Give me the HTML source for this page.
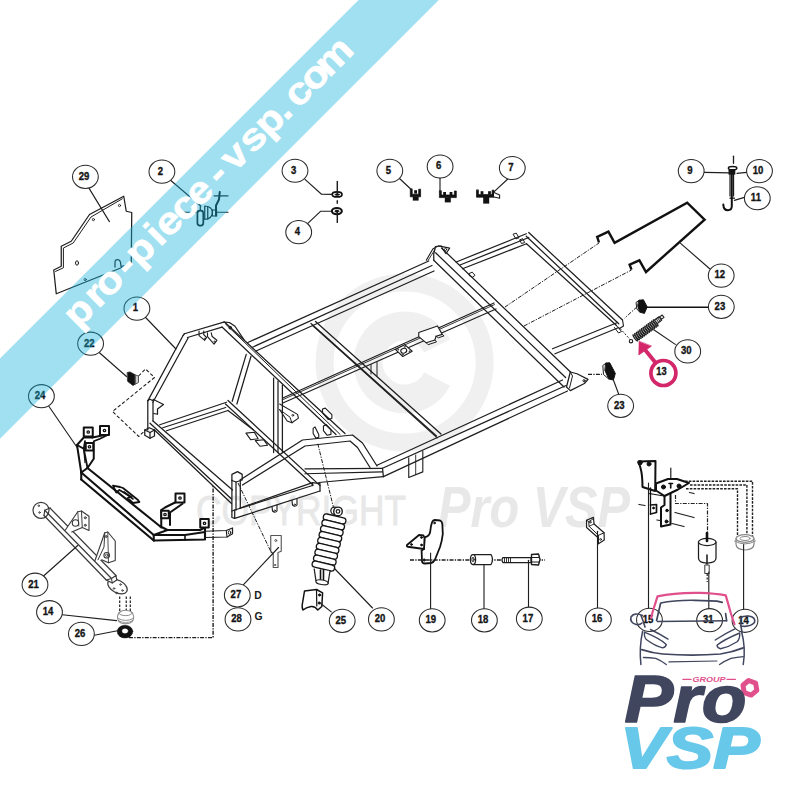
<!DOCTYPE html>
<html><head><meta charset="utf-8"><title>Schema</title>
<style>
html,body{margin:0;padding:0;background:#fff;}
body{width:800px;height:800px;overflow:hidden;position:relative;font-family:"Liberation Sans",sans-serif;}
svg{position:absolute;left:0;top:0;display:block}
.n{font:bold 10.6px "Liberation Sans",sans-serif;fill:#141414;text-anchor:middle;stroke:#141414;stroke-width:0.35px}
.b{font:bold 10.4px "Liberation Sans",sans-serif;fill:#1a1a1a}
</style></head><body>
<svg width="800" height="800" viewBox="0 0 800 800" stroke-linecap="round" stroke-linejoin="round">
<circle cx="404.60" cy="362.50" r="80.00" fill="none" stroke="#f0f0f0" stroke-width="18.00"/>
<path d="M 437.1 345.9 A 36.5 36.5 0 1 0 437.1 379.1" fill="none" stroke="#f0f0f0" stroke-width="29" stroke-linecap="butt"/>
<text x="196" y="525" style="font:42px 'Liberation Sans',sans-serif;fill:#e8e8e8;stroke:#e8e8e8;stroke-width:0.8px" textLength="210" lengthAdjust="spacingAndGlyphs">COPYRIGHT</text>
<text x="438" y="527" style="font:italic bold 57px 'Liberation Sans',sans-serif;fill:#e8e8e8" textLength="192" lengthAdjust="spacingAndGlyphs">Pro VSP</text>
<path d="M184.40 333.75 L223.75 322.10" fill="none" stroke="#1e1e1e" stroke-width="1.25" />
<path d="M187.50 337.50 L222.00 327.20" fill="none" stroke="#1e1e1e" stroke-width="1.25" />
<path d="M183.20 335.30 L147.80 400.90" fill="none" stroke="#1e1e1e" stroke-width="1.25" />
<path d="M188.10 338.00 L152.90 402.20" fill="none" stroke="#1e1e1e" stroke-width="1.25" />
<path d="M183.20 335.30 L184.40 333.75" fill="none" stroke="#1e1e1e" stroke-width="1.25" />
<path d="M147.80 400.50 L147.80 430.00" fill="none" stroke="#1e1e1e" stroke-width="1.25" />
<path d="M153.00 402.00 L153.00 421.00" fill="none" stroke="#1e1e1e" stroke-width="1.25" />
<path d="M147.80 400.50 L150.00 399.30 L153.00 400.80" fill="none" stroke="#1e1e1e" stroke-width="1.25" />
<path d="M153.00 399.30 L163.50 404.50 L157.50 409.00 L157.50 414.25 L153.75 413.50" fill="none" stroke="#1e1e1e" stroke-width="1.25" />
<path d="M144.75 430.00 L149.25 427.75 L154.50 430.00 L154.50 436.00 L150.00 438.25 L144.75 435.25 Z" fill="none" stroke="#1e1e1e" stroke-width="1.25" />
<path d="M144.75 430.00 L150.00 432.50 L154.50 430.00" fill="none" stroke="#1e1e1e" stroke-width="1.25" />
<path d="M150.00 432.50 L150.00 438.25" fill="none" stroke="#1e1e1e" stroke-width="1.25" />
<path d="M159.75 424.75 L226.50 402.25" fill="none" stroke="#1e1e1e" stroke-width="1.25" />
<path d="M162.75 427.75 L225.75 407.50" fill="none" stroke="#1e1e1e" stroke-width="1.25" />
<path d="M166.50 430.75 L228.00 410.50" fill="none" stroke="#1e1e1e" stroke-width="1.25" />
<path d="M153.00 421.00 L232.50 490.00" fill="none" stroke="#1e1e1e" stroke-width="1.25" />
<path d="M150.00 423.25 L231.50 499.00" fill="none" stroke="#1e1e1e" stroke-width="1.25" />
<path d="M154.50 430.00 L231.50 503.50" fill="none" stroke="#1e1e1e" stroke-width="1.25" />
<path d="M231.90 474.40 L237.50 471.60 L242.20 474.40 L242.20 480.00 L236.00 482.00 L231.90 480.50 Z" fill="none" stroke="#1e1e1e" stroke-width="1.25" />
<path d="M231.90 480.00 L231.90 511.00" fill="none" stroke="#1e1e1e" stroke-width="1.25" />
<path d="M236.00 482.00 L236.00 510.00" fill="none" stroke="#1e1e1e" stroke-width="1.25" />
<path d="M240.30 481.00 L240.30 508.00" fill="none" stroke="#1e1e1e" stroke-width="1.25" />
<path d="M240.00 508.00 L312.50 482.70" fill="none" stroke="#1e1e1e" stroke-width="1.25" />
<path d="M234.70 510.00 L312.50 485.50" fill="none" stroke="#1e1e1e" stroke-width="1.25" />
<path d="M234.70 518.40 L320.00 491.00" fill="none" stroke="#1e1e1e" stroke-width="1.25" />
<path d="M234.70 510.00 L231.90 511.00 L231.90 517.50 L234.70 518.40 L234.70 510.00" fill="none" stroke="#1e1e1e" stroke-width="1.25" />
<path d="M312.50 482.70 L320.00 483.60 L320.00 491.00" fill="none" stroke="#1e1e1e" stroke-width="1.25" />
<path d="M312.50 482.70 L312.50 485.50" fill="none" stroke="#1e1e1e" stroke-width="1.25" />
<path d="M228.00 400.50 L320.00 485.60" fill="none" stroke="#1e1e1e" stroke-width="1.25" />
<path d="M225.50 404.00 L313.00 485.00" fill="none" stroke="#1e1e1e" stroke-width="1.25" />
<path d="M228.00 410.50 L253.50 430.00" fill="none" stroke="#1e1e1e" stroke-width="1.25" />
<path d="M273.60 378.00 L273.60 452.50" fill="none" stroke="#1e1e1e" stroke-width="1.25" />
<path d="M278.00 381.00 L278.00 452.50" fill="none" stroke="#1e1e1e" stroke-width="1.25" />
<path d="M282.40 385.00 L282.40 452.50" fill="none" stroke="#1e1e1e" stroke-width="1.25" />
<path d="M224.50 322.00 L345.00 433.50" fill="none" stroke="#1e1e1e" stroke-width="1.25" />
<path d="M222.00 327.00 L336.00 434.50" fill="none" stroke="#1e1e1e" stroke-width="1.25" />
<path d="M223.75 322.10 L229.40 322.50 L235.00 326.25 L244.40 340.30" fill="none" stroke="#1e1e1e" stroke-width="1.25" />
<circle cx="230.30" cy="327.70" r="1.20" fill="none" stroke="#1e1e1e" stroke-width="1.25"/>
<path d="M246.25 354.40 L232.20 401.25" fill="none" stroke="#1e1e1e" stroke-width="1.25" />
<path d="M251.00 356.25 L236.90 404.00" fill="none" stroke="#1e1e1e" stroke-width="1.25" />
<path d="M247.80 342.50 L428.75 261.00" fill="none" stroke="#1e1e1e" stroke-width="1.25" />
<path d="M252.50 347.20 L432.00 265.50" fill="none" stroke="#1e1e1e" stroke-width="1.25" />
<path d="M256.00 351.00 L434.00 271.00" fill="none" stroke="#1e1e1e" stroke-width="1.25" />
<path d="M441.50 248.00 L570.50 372.00" fill="none" stroke="#1e1e1e" stroke-width="1.25" />
<path d="M435.60 252.80 L565.60 377.50" fill="none" stroke="#1e1e1e" stroke-width="1.25" />
<path d="M433.75 260.30 L564.00 387.00" fill="none" stroke="#1e1e1e" stroke-width="1.25" />
<path d="M433.75 260.00 L433.75 253.75 L435.50 246.50 L441.25 246.00" fill="none" stroke="#1e1e1e" stroke-width="1.25" />
<path d="M456.25 262.00 L526.25 233.75" fill="none" stroke="#1e1e1e" stroke-width="1.25" />
<path d="M460.00 265.00 L528.75 237.50" fill="none" stroke="#1e1e1e" stroke-width="1.25" />
<path d="M462.50 268.75 L526.50 243.75" fill="none" stroke="#1e1e1e" stroke-width="1.25" />
<path d="M528.75 232.50 L622.50 320.00" fill="none" stroke="#1e1e1e" stroke-width="1.25" />
<path d="M526.25 236.25 L618.75 323.75" fill="none" stroke="#1e1e1e" stroke-width="1.25" />
<path d="M526.50 243.75 L616.50 325.50" fill="none" stroke="#1e1e1e" stroke-width="1.25" />
<path d="M617.50 322.50 L552.50 348.75" fill="none" stroke="#1e1e1e" stroke-width="1.25" />
<path d="M618.75 327.50 L555.00 353.75" fill="none" stroke="#1e1e1e" stroke-width="1.25" />
<path d="M562.50 380.00 L377.00 465.30" fill="none" stroke="#1e1e1e" stroke-width="1.25" />
<path d="M566.00 385.50 L382.50 468.30" fill="none" stroke="#1e1e1e" stroke-width="1.25" />
<path d="M567.50 391.00 L383.40 476.60" fill="none" stroke="#1e1e1e" stroke-width="1.25" />
<path d="M311.00 323.50 L436.50 436.00" fill="none" stroke="#1e1e1e" stroke-width="1.25" />
<path d="M315.50 321.50 L441.00 434.00" fill="none" stroke="#1e1e1e" stroke-width="1.25" />
<path d="M312.60 325.60 L437.20 437.80" fill="none" stroke="#1e1e1e" stroke-width="1.12" />
<path d="M282.80 398.00 L494.00 303.00" fill="none" stroke="#1e1e1e" stroke-width="1.25" />
<path d="M282.80 403.00 L496.00 309.00" fill="none" stroke="#1e1e1e" stroke-width="1.25" />
<path d="M283.00 399.60 L494.50 304.60" fill="none" stroke="#1e1e1e" stroke-width="0.88" />
<path d="M240.00 480.00 L302.50 440.00 L352.50 435.00 L362.50 443.00 L377.00 466.00" fill="none" stroke="#1e1e1e" stroke-width="1.25" />
<path d="M242.50 485.00 L305.00 446.00 L350.00 441.00 L357.50 447.50 L370.00 467.50" fill="none" stroke="#1e1e1e" stroke-width="1.25" />
<path d="M305.00 468.75 L382.50 468.30" fill="none" stroke="#1e1e1e" stroke-width="1.25" />
<path d="M305.00 473.75 L382.50 471.90" fill="none" stroke="#1e1e1e" stroke-width="1.25" />
<path d="M318.75 482.50 L383.40 476.60" fill="none" stroke="#1e1e1e" stroke-width="1.25" />
<path d="M382.50 468.30 L383.40 476.60" fill="none" stroke="#1e1e1e" stroke-width="1.25" />
<path d="M123.75 196.25 L126.25 211.25 L131.75 212.50 L131.25 263.75 L56.25 293.75 L53.75 270.00 L61.25 266.25 L61.25 246.25 L71.25 241.25 L89.50 214.50 Z" fill="none" stroke="#1e1e1e" stroke-width="1.25" />
<path d="M122.30 198.80 L91.00 217.00 L73.20 243.00 L63.40 248.00 L63.40 267.80 L55.60 271.40" fill="none" stroke="#1e1e1e" stroke-width="1.00" />
<path d="M131.25 263.75 L121 266.5 L120.5 262.5 Q120 259.5 117.5 259.5 Q114.8 259.5 115 263 L115 267" fill="none" stroke="#1e1e1e" stroke-width="1.25" />
<circle cx="119.50" cy="205.50" r="1.10" fill="none" stroke="#1e1e1e" stroke-width="0.88"/>
<circle cx="93.40" cy="219.60" r="1.10" fill="none" stroke="#1e1e1e" stroke-width="0.88"/>
<ellipse cx="77.00" cy="263.00" rx="1.50" ry="2.20" fill="none" stroke="#1e1e1e" stroke-width="1.00" transform="rotate(0.0 77.00 263.00)"/>
<circle cx="85.20" cy="279.60" r="1.10" fill="none" stroke="#1e1e1e" stroke-width="0.88"/>
<path d="M89.10 188.40 L109.40 221.60" fill="none" stroke="#1e1e1e" stroke-width="1.12" />
<path d="M170.50 180.30 L201.00 206.25" fill="none" stroke="#1e1e1e" stroke-width="1.12" />
<path d="M184.10 212.25 L196.10 212.25" fill="none" stroke="#1e1e1e" stroke-width="1.12" />
<path d="M217.50 212.25 L228.00 212.25" fill="none" stroke="#1e1e1e" stroke-width="1.12" />
<path d="M214.10 195.90 L228.00 195.90" fill="none" stroke="#1e1e1e" stroke-width="1.12" />
<rect x="197.4" y="210.6" width="5.9" height="15" rx="2.6" fill="none" stroke="#111" stroke-width="1.7"/>
<path d="M200.3 206.5 V210.5" fill="none" stroke="#111" stroke-width="1.20" />
<path d="M204.75 206 Q212.4 206.5 212.4 212.5 Q212.4 218.5 204.75 219.5 Z" fill="none" stroke="#111" stroke-width="1.20" />
<path d="M207.75 206.5 V219" fill="none" stroke="#111" stroke-width="1.25" />
<rect x="212.4" y="210" width="4.2" height="6" fill="none" stroke="#111" stroke-width="1.2"/>
<path d="M219.75 192 L219 199.5 L216 205.5 L216 215.5" fill="none" stroke="#111" stroke-width="2.00" />
<ellipse cx="337.10" cy="194.45" rx="4.90" ry="2.50" fill="#fff" stroke="#111" stroke-width="1.70" transform="rotate(0.0 337.10 194.45)"/>
<ellipse cx="337.20" cy="194.60" rx="2.20" ry="0.90" fill="#111" stroke="#111" stroke-width="0.62" transform="rotate(0.0 337.20 194.60)"/>
<ellipse cx="336.85" cy="211.10" rx="5.00" ry="3.10" fill="#fff" stroke="#111" stroke-width="2.10" transform="rotate(0.0 336.85 211.10)"/>
<ellipse cx="336.90" cy="211.20" rx="2.00" ry="1.10" fill="#111" stroke="#111" stroke-width="0.62" transform="rotate(0.0 336.90 211.20)"/>
<path d="M337.30 181.50 L337.30 194.20" fill="none" stroke="#1e1e1e" stroke-width="1.44" />
<path d="M337.30 200.80 L337.30 203.20" fill="none" stroke="#1e1e1e" stroke-width="1.44" />
<path d="M337.30 212.00 L337.30 222.40" fill="none" stroke="#1e1e1e" stroke-width="1.44" />
<path d="M305.00 179.40 L321.50 194.25 L331.80 194.40" fill="none" stroke="#1e1e1e" stroke-width="1.12" />
<path d="M307.80 223.40 L320.50 211.30 L331.40 211.30" fill="none" stroke="#1e1e1e" stroke-width="1.12" />
<path d="M410.30 189.20 V196.80 H420.60 V189.20 H418.70 V194.20 H412.20 V189.20 Z" fill="#111" stroke="#111" stroke-width="0.75" />
<rect x="412.80" y="196.60" width="5.80" height="4.00" fill="#111"/>
<rect x="414.20" y="190.20" width="2.8" height="3.4" fill="#111"/>
<path d="M439.40 191.00 V197.60 H456.30 V191.00 H454.40 V195.00 H441.30 V191.00 Z" fill="#111" stroke="#111" stroke-width="0.75" />
<rect x="444.80" y="197.40" width="6.00" height="5.00" fill="#111"/>
<rect x="443.20" y="192.00" width="2.8" height="3.4" fill="#111"/>
<rect x="449.60" y="192.00" width="2.8" height="3.4" fill="#111"/>
<path d="M476.50 190.20 V197.20 H494.00 V190.20 H492.10 V194.60 H478.40 V190.20 Z" fill="#111" stroke="#111" stroke-width="0.75" />
<rect x="483.20" y="197.00" width="6.00" height="6.60" fill="#111"/>
<rect x="480.60" y="191.20" width="2.8" height="3.4" fill="#111"/>
<rect x="488.10" y="191.20" width="2.8" height="3.4" fill="#111"/>
<path d="M494.00 192.60 L499.60 195.00 L499.60 198.20 L494.00 197.00" fill="#fff" stroke="#1e1e1e" stroke-width="1.12" />
<path d="M399.50 178.50 L411.25 189.50" fill="none" stroke="#1e1e1e" stroke-width="1.12" />
<path d="M440.00 178.20 L440.00 192.00" fill="none" stroke="#1e1e1e" stroke-width="1.12" />
<path d="M507.80 179.00 L492.80 192.80" fill="none" stroke="#1e1e1e" stroke-width="1.12" />
<path d="M733.50 156.25 L733.50 163.25" fill="none" stroke="#1e1e1e" stroke-width="1.30" />
<ellipse cx="732.60" cy="168.15" rx="4.20" ry="1.60" fill="#fff" stroke="#111" stroke-width="1.50" transform="rotate(0.0 732.60 168.15)"/>
<rect x="728.5" y="170" width="6.8" height="4.6" fill="#111"/>
<path d="M731.8 174 V206 Q731.8 210.2 727.8 210.2 Q723.6 210.2 723.3 204.6" fill="none" stroke="#111" stroke-width="2.00" />
<path d="M730 174 V196 M733.6 174 V196" fill="none" stroke="#111" stroke-width="1.12" />
<path d="M730 198.2 H734.5" fill="none" stroke="#111" stroke-width="1.20" />
<path d="M704.10 172.35 L730.00 172.90" fill="none" stroke="#1e1e1e" stroke-width="1.12" />
<path d="M746.60 172.35 L737.00 173.40" fill="none" stroke="#1e1e1e" stroke-width="1.12" />
<path d="M744.35 197.40 L734.40 200.35" fill="none" stroke="#1e1e1e" stroke-width="1.12" />
<path d="M599.00 242.50 L597.20 236.90 L608.40 231.60 L614.60 242.90 L687.20 202.75 L704.60 219.60 L646.00 272.00 L639.40 260.30 L629.60 264.60 L631.50 269.70" fill="none" stroke="#111" stroke-width="2.40" stroke-linejoin="miter" stroke-linecap="butt"/>
<path d="M709.70 268.75 L680.60 243.40" fill="none" stroke="#1e1e1e" stroke-width="1.12" />
<path d="M639.10 300.30 L643.40 299.75 L647.20 306.90 L644.40 313.40 L639.70 312.10 L637.80 305.90 Z" fill="#111" stroke="#111" stroke-width="1.00" />
<path d="M639.10 300.30 L636.00 302.50 L636.90 309.00 L639.70 312.10" fill="none" stroke="#1e1e1e" stroke-width="1.00" />
<path d="M647.20 307.25 L708.50 307.25" fill="none" stroke="#111" stroke-width="1.60" />
<path d="M606.00 363.10 L609.70 362.75 L615.30 373.40 L613.40 380.00 L608.75 379.00 L605.00 370.60 Z" fill="#111" stroke="#111" stroke-width="1.00" />
<path d="M606.00 363.10 L602.80 365.50 L603.50 374.50 L608.75 379.00" fill="none" stroke="#1e1e1e" stroke-width="1.00" />
<path d="M613.40 380.00 L619.00 395.00" fill="none" stroke="#1e1e1e" stroke-width="1.12" />
<path d="M588.00 374.40 L602.00 374.40" fill="none" stroke="#1e1e1e" stroke-width="1.20" stroke-dasharray="4 1.3 1.3 1.3" stroke-linecap="butt" />
<path d="M636.90 306.90 L624.70 318.10" fill="none" stroke="#1e1e1e" stroke-width="1.00" stroke-dasharray="4 1.3 1.3 1.3" stroke-linecap="butt" />
<path d="M620.00 328.40 L630.30 339.70" fill="none" stroke="#1e1e1e" stroke-width="1.00" stroke-dasharray="2 1.5" stroke-linecap="butt" />
<ellipse cx="635.35" cy="337.88" rx="3.80" ry="0.88" fill="#fff" stroke="#1a1a1a" stroke-width="1.25" transform="rotate(53.6 635.35 337.88)"/>
<ellipse cx="637.04" cy="336.63" rx="3.80" ry="0.88" fill="#fff" stroke="#1a1a1a" stroke-width="1.25" transform="rotate(53.6 637.04 336.63)"/>
<ellipse cx="638.73" cy="335.38" rx="3.80" ry="0.88" fill="#fff" stroke="#1a1a1a" stroke-width="1.25" transform="rotate(53.6 638.73 335.38)"/>
<ellipse cx="640.42" cy="334.14" rx="3.80" ry="0.88" fill="#fff" stroke="#1a1a1a" stroke-width="1.25" transform="rotate(53.6 640.42 334.14)"/>
<ellipse cx="642.12" cy="332.89" rx="3.80" ry="0.88" fill="#fff" stroke="#1a1a1a" stroke-width="1.25" transform="rotate(53.6 642.12 332.89)"/>
<ellipse cx="643.81" cy="331.65" rx="3.80" ry="0.88" fill="#fff" stroke="#1a1a1a" stroke-width="1.25" transform="rotate(53.6 643.81 331.65)"/>
<ellipse cx="645.50" cy="330.40" rx="3.80" ry="0.88" fill="#fff" stroke="#1a1a1a" stroke-width="1.25" transform="rotate(53.6 645.50 330.40)"/>
<ellipse cx="647.19" cy="329.15" rx="3.80" ry="0.88" fill="#fff" stroke="#1a1a1a" stroke-width="1.25" transform="rotate(53.6 647.19 329.15)"/>
<ellipse cx="648.88" cy="327.91" rx="3.80" ry="0.88" fill="#fff" stroke="#1a1a1a" stroke-width="1.25" transform="rotate(53.6 648.88 327.91)"/>
<ellipse cx="650.58" cy="326.66" rx="3.80" ry="0.88" fill="#fff" stroke="#1a1a1a" stroke-width="1.25" transform="rotate(53.6 650.58 326.66)"/>
<ellipse cx="652.27" cy="325.42" rx="3.80" ry="0.88" fill="#fff" stroke="#1a1a1a" stroke-width="1.25" transform="rotate(53.6 652.27 325.42)"/>
<ellipse cx="653.96" cy="324.17" rx="3.80" ry="0.88" fill="#fff" stroke="#1a1a1a" stroke-width="1.25" transform="rotate(53.6 653.96 324.17)"/>
<ellipse cx="655.65" cy="322.92" rx="3.80" ry="0.88" fill="#fff" stroke="#1a1a1a" stroke-width="1.25" transform="rotate(53.6 655.65 322.92)"/>
<path d="M654.50 320.00 L659.00 316.70 L661.60 320.20 L657.20 323.60 Z" fill="#ddd" stroke="#222" stroke-width="1.12" />
<path d="M659.60 316.90 L662.20 315.00 L664.00 317.40 L661.40 319.40 Z" fill="#eee" stroke="#222" stroke-width="1.12" />
<path d="M656.20 318.80 L658.60 322.30" fill="none" stroke="#1e1e1e" stroke-width="0.88" />
<path d="M657.60 317.70 L660.00 321.30" fill="none" stroke="#1e1e1e" stroke-width="0.88" />
<circle cx="631.00" cy="341.20" r="1.70" fill="none" stroke="#1e1e1e" stroke-width="1.12"/>
<path d="M675.30 344.40 L653.75 329.75" fill="none" stroke="#1e1e1e" stroke-width="1.12" />
<circle cx="663.40" cy="373.00" r="12.50" fill="none" stroke="#d3276a" stroke-width="3.70"/>
<path d="M655.60 362.80 L644.20 348.80" fill="none" stroke="#d3276a" stroke-width="3.90" stroke-linecap="butt"/>
<path d="M639.10 341.60 L638.80 355.00 L651.30 346.20 Z" fill="#d3276a" stroke="#d3276a" stroke-width="0.62" />
<path d="M127.50 372.50 L130.00 372.00 L135.50 375.00 L135.50 384.00 L133.00 385.50 L127.80 381.50 Z" fill="#111" stroke="#111" stroke-width="0.75" />
<path d="M135.50 375.00 L138.50 376.00 L138.50 382.50 L135.50 384.00 Z" fill="#ccc" stroke="#555" stroke-width="1.00" />
<path d="M99.20 352.50 L126.50 376.50" fill="none" stroke="#1e1e1e" stroke-width="1.12" />
<path d="M138.50 376.00 L145.50 369.00 L154.50 377.50 L112.50 411.50 L138.75 436.50 L145.00 430.50" fill="none" stroke="#1e1e1e" stroke-width="1.06" stroke-dasharray="3.5 2" stroke-linecap="butt" />
<path d="M87.50 468.00 L160.00 526.25" fill="none" stroke="#111" stroke-width="2.10" />
<path d="M81.25 472.50 L153.75 535.00" fill="none" stroke="#111" stroke-width="2.10" />
<path d="M81.25 479.50 L153.75 540.50" fill="none" stroke="#111" stroke-width="2.10" />
<path d="M81.25 472.50 L81.25 479.50" fill="none" stroke="#111" stroke-width="2.10" />
<path d="M81.25 472.50 L87.50 468.00" fill="none" stroke="#111" stroke-width="2.10" />
<path d="M160.00 526.25 L167.50 530.00 L200.00 530.00 L205.00 527.50" fill="none" stroke="#111" stroke-width="2.10" />
<path d="M153.75 535.00 L167.50 530.00" fill="none" stroke="#111" stroke-width="1.90" />
<path d="M153.75 535.00 L185.00 535.00 L205.00 532.00" fill="none" stroke="#111" stroke-width="1.90" />
<path d="M153.75 540.50 L205.00 539.50 L205.00 527.50" fill="none" stroke="#111" stroke-width="2.10" />
<path d="M153.75 535.00 L153.75 540.50" fill="none" stroke="#111" stroke-width="2.10" />
<path d="M185.00 535.00 L185.00 540.00" fill="none" stroke="#111" stroke-width="1.60" />
<path d="M205.00 531.25 L226.25 530.50 L232.50 528.00 L232.50 533.75 L227.00 537.00 L205.00 537.50" fill="none" stroke="#1e1e1e" stroke-width="1.25" />
<path d="M226.25 530.50 L227.00 537.00" fill="none" stroke="#1e1e1e" stroke-width="1.12" />
<ellipse cx="229.50" cy="532.50" rx="1.20" ry="1.80" fill="none" stroke="#1e1e1e" stroke-width="1.00" transform="rotate(0.0 229.50 532.50)"/>
<path d="M81.25 472.50 L77.00 445.00 L83.75 437.50 L92.50 437.50" fill="none" stroke="#111" stroke-width="2.00" />
<path d="M87.50 468.00 L83.75 448.75 L85.00 441.25" fill="none" stroke="#111" stroke-width="1.80" />
<path d="M77.00 445.00 L83.75 448.75 L93.75 442.50 L93.75 458.75 L87.50 468.00" fill="none" stroke="#111" stroke-width="2.00" />
<path d="M83.75 448.75 L85.00 462.50" fill="none" stroke="#111" stroke-width="1.25" />
<path d="M92.50 437.50 L104.50 435.00" fill="none" stroke="#111" stroke-width="1.80" />
<path d="M93.75 441.25 L100.00 438.75 L107.50 435.00" fill="none" stroke="#111" stroke-width="1.80" />
<rect x="83.75" y="427.50" width="9.00" height="9.00" fill="#fff" stroke="#111" stroke-width="2"/>
<circle cx="88.25" cy="432.00" r="1.20" fill="none" stroke="#111" stroke-width="1.30"/>
<rect x="100.00" y="426.00" width="9.00" height="9.00" fill="#fff" stroke="#111" stroke-width="2"/>
<circle cx="104.50" cy="430.50" r="1.20" fill="none" stroke="#111" stroke-width="1.30"/>
<rect x="85.75" y="443.00" width="7.50" height="7.50" fill="#fff" stroke="#111" stroke-width="2"/>
<circle cx="89.50" cy="446.75" r="1.20" fill="none" stroke="#111" stroke-width="1.30"/>
<path d="M161.25 527.50 L161.25 510.00 L165.00 507.50 L177.50 501.25" fill="none" stroke="#111" stroke-width="2.00" />
<path d="M170.00 525.00 L170.00 512.50 L182.50 503.75" fill="none" stroke="#111" stroke-width="2.00" />
<path d="M161.25 510.00 L170.00 512.50" fill="none" stroke="#111" stroke-width="1.60" />
<rect x="175.50" y="493.50" width="9.00" height="9.00" fill="#fff" stroke="#111" stroke-width="2"/>
<circle cx="180.00" cy="498.00" r="1.20" fill="none" stroke="#111" stroke-width="1.30"/>
<rect x="161.25" y="510.75" width="7.50" height="7.50" fill="#fff" stroke="#111" stroke-width="2"/>
<circle cx="165.00" cy="514.50" r="1.20" fill="none" stroke="#111" stroke-width="1.30"/>
<rect x="200.25" y="519.00" width="8.50" height="8.50" fill="#fff" stroke="#111" stroke-width="2"/>
<circle cx="204.50" cy="523.25" r="1.20" fill="none" stroke="#111" stroke-width="1.30"/>
<path d="M113.00 485.60 L120.00 487.00 L123.00 488.00 L138.00 500.00 L139.40 502.00 L133.00 503.00 L127.50 498.00 L131.25 497.00 L119.40 490.00 L116.25 492.50 Z" fill="none" stroke="#111" stroke-width="1.80" />
<path d="M124.00 492.00 L133.00 499.00" fill="none" stroke="#111" stroke-width="1.60" />
<path d="M48.50 405.80 L77.50 448.00" fill="none" stroke="#1e1e1e" stroke-width="1.12" />
<circle cx="41.00" cy="510.30" r="8.00" fill="#fff" stroke="#3a3a3a" stroke-width="1.19"/>
<circle cx="38.75" cy="505.75" r="0.80" fill="none" stroke="#3a3a3a" stroke-width="0.88"/>
<circle cx="39.50" cy="512.50" r="0.80" fill="none" stroke="#3a3a3a" stroke-width="0.88"/>
<path d="M50.00 508.00 L116.00 575.50" fill="none" stroke="#3a3a3a" stroke-width="1.19" />
<path d="M44.75 510.25 L111.50 578.50" fill="none" stroke="#3a3a3a" stroke-width="1.19" />
<path d="M44.00 515.50 L106.25 580.00" fill="none" stroke="#3a3a3a" stroke-width="1.19" />
<path d="M44.00 515.50 L44.75 510.25 L50.00 508.00" fill="none" stroke="#3a3a3a" stroke-width="1.19" />
<ellipse cx="117.50" cy="586.50" rx="10.50" ry="6.20" fill="#fff" stroke="#3a3a3a" stroke-width="1.19" transform="rotate(28.0 117.50 586.50)"/>
<path d="M106.25 580.00 L111.50 578.50 L116.00 575.50 L116.75 580.00 L112.25 583.00 L106.25 580.00" fill="#fff" stroke="#3a3a3a" stroke-width="1.19" />
<path d="M111.50 578.50 L112.25 583.00" fill="none" stroke="#3a3a3a" stroke-width="1.00" />
<circle cx="114.00" cy="588.50" r="0.80" fill="none" stroke="#3a3a3a" stroke-width="0.88"/>
<circle cx="120.50" cy="584.50" r="0.80" fill="none" stroke="#3a3a3a" stroke-width="0.88"/>
<circle cx="122.50" cy="590.50" r="0.80" fill="none" stroke="#3a3a3a" stroke-width="0.88"/>
<circle cx="116.50" cy="593.00" r="0.80" fill="none" stroke="#3a3a3a" stroke-width="0.88"/>
<path d="M65.00 530.50 L77.75 511.75 L81.50 511.00 L89.00 516.25 L89.00 530.50 L82.25 527.50 L71.75 532.00" fill="#fff" stroke="#3a3a3a" stroke-width="1.12" />
<path d="M81.50 511.00 L82.25 527.50" fill="none" stroke="#3a3a3a" stroke-width="1.00" />
<path d="M77.75 511.75 L78.80 526.00" fill="none" stroke="#3a3a3a" stroke-width="0.88" />
<circle cx="75.50" cy="523.00" r="3.20" fill="none" stroke="#3a3a3a" stroke-width="1.12"/>
<circle cx="85.25" cy="517.75" r="1.00" fill="none" stroke="#3a3a3a" stroke-width="1.00"/>
<circle cx="85.25" cy="525.25" r="1.00" fill="none" stroke="#3a3a3a" stroke-width="1.00"/>
<path d="M95.00 560.50 L104.75 532.75 L107.75 532.00 L115.25 541.00 L115.25 560.50 L108.50 562.75 L101.75 559.75" fill="#fff" stroke="#3a3a3a" stroke-width="1.12" />
<path d="M104.75 532.75 L104.00 547.00 L98.00 559.75" fill="none" stroke="#3a3a3a" stroke-width="1.00" />
<path d="M107.75 532.00 L108.50 562.75" fill="none" stroke="#3a3a3a" stroke-width="0.88" />
<circle cx="106.70" cy="555.25" r="2.80" fill="none" stroke="#3a3a3a" stroke-width="1.12"/>
<circle cx="106.70" cy="555.25" r="1.20" fill="none" stroke="#3a3a3a" stroke-width="0.88"/>
<circle cx="106.25" cy="536.50" r="1.00" fill="none" stroke="#3a3a3a" stroke-width="1.00"/>
<path d="M43.25 576.25 L77.75 545.50" fill="none" stroke="#1e1e1e" stroke-width="1.12" />
<path d="M119.70 596.50 L119.70 611.50" fill="none" stroke="#1e1e1e" stroke-width="1.20" stroke-dasharray="2.6 1.4" stroke-linecap="butt" />
<path d="M126.25 596.50 L126.25 611.50" fill="none" stroke="#1e1e1e" stroke-width="1.20" stroke-dasharray="2.6 1.4" stroke-linecap="butt" />
<path d="M130.30 596.50 L130.30 611.50" fill="none" stroke="#1e1e1e" stroke-width="1.20" stroke-dasharray="2.6 1.4" stroke-linecap="butt" />
<ellipse cx="125.60" cy="613.00" rx="6.60" ry="2.60" fill="#fff" stroke="#8c8c8c" stroke-width="1.00" transform="rotate(0.0 125.60 613.00)"/>
<path d="M117.6 616 Q117 621 121 623 Q125.6 624.5 130 623 Q134.2 621 133.6 616 Q133 612.5 130.5 611.5" fill="none" stroke="#8c8c8c" stroke-width="1.06" />
<path d="M117.6 616 Q118.2 612.5 121 611.5" fill="none" stroke="#8c8c8c" stroke-width="1.06" />
<path d="M118 618.5 Q125.6 622.5 133.3 618.5" fill="none" stroke="#8c8c8c" stroke-width="1.00" />
<path d="M118.6 620.8 Q125.6 624.5 132.6 620.8" fill="none" stroke="#8c8c8c" stroke-width="0.88" />
<path d="M62.40 614.70 L116.50 620.60" fill="none" stroke="#1e1e1e" stroke-width="1.12" />
<ellipse cx="125.00" cy="631.60" rx="7.80" ry="6.40" fill="#111" stroke="#111" stroke-width="0.50" transform="rotate(0.0 125.00 631.60)"/>
<ellipse cx="125.00" cy="631.00" rx="2.80" ry="2.20" fill="#fff" stroke="#fff" stroke-width="0.38" transform="rotate(0.0 125.00 631.00)"/>
<path d="M94.30 635.30 L117.50 630.80" fill="none" stroke="#1e1e1e" stroke-width="1.12" />
<path d="M129.00 637.60 L213.10 637.60 L213.10 485.00" fill="none" stroke="#1e1e1e" stroke-width="1.38" stroke-dasharray="4 1.3 1.3 1.3" stroke-linecap="butt" />
<path d="M270.75 535.50 L281.25 535.50 L281.25 551.25 L278.00 552.50 L278.00 567.50 L273.25 567.50 L273.25 553.75 L270.75 551.25 Z" fill="none" stroke="#555" stroke-width="1.12" />
<circle cx="275.75" cy="540.50" r="1.00" fill="none" stroke="#555" stroke-width="1.00"/>
<circle cx="275.00" cy="565.00" r="0.70" fill="none" stroke="#555" stroke-width="0.88"/>
<path d="M243.50 584.70 L278.50 547.50" fill="none" stroke="#1e1e1e" stroke-width="1.12" />
<path d="M238.00 483.00 L272.50 555.00" fill="none" stroke="#1e1e1e" stroke-width="1.00" stroke-dasharray="4 1.3 1.3 1.3" stroke-linecap="butt" />
<path d="M317.80 443.75 L333.50 507.50" fill="none" stroke="#1e1e1e" stroke-width="1.00" stroke-dasharray="4 1.3 1.3 1.3" stroke-linecap="butt" />
<circle cx="334.40" cy="510.80" r="3.60" fill="#fff" stroke="#1e1e1e" stroke-width="1.25"/>
<circle cx="338.00" cy="511.40" r="4.30" fill="#fff" stroke="#1e1e1e" stroke-width="1.38"/>
<circle cx="338.00" cy="511.40" r="1.80" fill="none" stroke="#1e1e1e" stroke-width="1.25"/>
<rect x="323.10" y="515.86" width="23.00" height="6.17" rx="3.09" fill="#fff" stroke="#151515" stroke-width="1.30" transform="rotate(13.4 334.60 518.94)"/>
<rect x="321.70" y="521.75" width="23.00" height="6.17" rx="3.09" fill="#fff" stroke="#151515" stroke-width="1.30" transform="rotate(13.4 333.20 524.83)"/>
<rect x="320.30" y="527.64" width="23.00" height="6.17" rx="3.09" fill="#fff" stroke="#151515" stroke-width="1.30" transform="rotate(13.4 331.80 530.72)"/>
<rect x="318.90" y="533.52" width="23.00" height="6.17" rx="3.09" fill="#fff" stroke="#151515" stroke-width="1.30" transform="rotate(13.4 330.40 536.61)"/>
<rect x="317.50" y="539.41" width="23.00" height="6.17" rx="3.09" fill="#fff" stroke="#151515" stroke-width="1.30" transform="rotate(13.4 329.00 542.50)"/>
<rect x="316.10" y="545.30" width="23.00" height="6.17" rx="3.09" fill="#fff" stroke="#151515" stroke-width="1.30" transform="rotate(13.4 327.60 548.39)"/>
<rect x="314.70" y="551.19" width="23.00" height="6.17" rx="3.09" fill="#fff" stroke="#151515" stroke-width="1.30" transform="rotate(13.4 326.20 554.28)"/>
<rect x="313.30" y="557.08" width="23.00" height="6.17" rx="3.09" fill="#fff" stroke="#151515" stroke-width="1.30" transform="rotate(13.4 324.80 560.17)"/>
<rect x="311.90" y="562.97" width="23.00" height="6.17" rx="3.09" fill="#fff" stroke="#151515" stroke-width="1.30" transform="rotate(13.4 323.40 566.06)"/>
<path d="M314.20 569.00 L316.00 581.00 L328.00 583.50 L330.00 571.00" fill="#fff" stroke="#1e1e1e" stroke-width="1.25" />
<ellipse cx="322.00" cy="582.30" rx="6.20" ry="2.30" fill="#fff" stroke="#1e1e1e" stroke-width="1.12" transform="rotate(10.0 322.00 582.30)"/>
<path d="M320.50 570.00 L320.50 579.00" fill="none" stroke="#111" stroke-width="1.60" />
<path d="M323.50 570.00 L323.50 579.50" fill="none" stroke="#111" stroke-width="1.60" />
<path d="M372.50 608.00 L334.25 568.25" fill="none" stroke="#1e1e1e" stroke-width="1.12" />
<path d="M304.5 591 L316.5 589.5 L322.6 592.8 L321.8 606.5 L317.8 610 Q315 606 311 606.5 Q306 607.5 303 610 Q301.8 608 302.2 605 Z" fill="#fff" stroke="#111" stroke-width="1.50" />
<path d="M316.5 589.5 L316.8 606" fill="none" stroke="#111" stroke-width="1.20" />
<circle cx="319.60" cy="595.00" r="1.10" fill="#111" stroke="#111" stroke-width="1.00"/>
<circle cx="319.20" cy="603.00" r="1.10" fill="#111" stroke="#111" stroke-width="1.00"/>
<path d="M331.25 611.90 L321.00 603.80" fill="none" stroke="#1e1e1e" stroke-width="1.12" />
<path d="M432 522.5 Q433 520 435 520 L440 520.5 Q442.4 521.5 442.4 525 L442.8 534 Q442 541 440 547 L435 559.5 Q433.5 562.5 431 563 L425 563.5 Q422 563.5 422 561 L421.6 550.5 L424 549 L424.5 538 Q425 536.8 427 536.5 Q430 535 430.3 531 L431 526 Z" fill="#fff" stroke="#111" stroke-width="1.80" />
<path d="M407 545 L419 535 L423.5 535.5 L424.5 538 L424 549 L409.5 547 Q406 547 407 545 Z" fill="#fff" stroke="#111" stroke-width="1.80" />
<circle cx="411.50" cy="544.50" r="0.90" fill="#111" stroke="#111" stroke-width="1.00"/>
<circle cx="421.50" cy="537.50" r="0.90" fill="#111" stroke="#111" stroke-width="1.00"/>
<circle cx="421.50" cy="545.00" r="0.90" fill="#111" stroke="#111" stroke-width="1.00"/>
<circle cx="434.50" cy="523.00" r="0.80" fill="#111" stroke="#111" stroke-width="1.00"/>
<circle cx="424.20" cy="560.00" r="1.10" fill="#111" stroke="#111" stroke-width="1.00"/>
<path d="M430.60 553.00 L430.60 608.70" fill="none" stroke="#1e1e1e" stroke-width="1.12" />
<path d="M410.00 560.00 L545.00 560.00" fill="none" stroke="#1e1e1e" stroke-width="1.38" stroke-dasharray="4 1.3 1.3 1.3" stroke-linecap="butt" />
<path d="M473 554.5 L491 554.5 Q494 559.5 491 564.5 L473 564.5 Q470 559.5 473 554.5 Z" fill="#fff" stroke="#1e1e1e" stroke-width="1.25" />
<ellipse cx="473.00" cy="559.50" rx="2.60" ry="5.00" fill="#fff" stroke="#1e1e1e" stroke-width="1.25" transform="rotate(0.0 473.00 559.50)"/>
<ellipse cx="473.00" cy="559.50" rx="1.10" ry="2.20" fill="none" stroke="#1e1e1e" stroke-width="1.00" transform="rotate(0.0 473.00 559.50)"/>
<path d="M484.00 565.00 L484.00 608.70" fill="none" stroke="#1e1e1e" stroke-width="1.12" />
<path d="M503 557.5 L531 557.5 L531 562.5 L503 562.5 Q501 560 503 557.5 Z" fill="#fff" stroke="#1e1e1e" stroke-width="1.25" />
<path d="M504.50 557.50 L504.50 562.50" fill="none" stroke="#1e1e1e" stroke-width="0.88" />
<path d="M506.50 557.50 L506.50 562.50" fill="none" stroke="#1e1e1e" stroke-width="0.88" />
<path d="M508.50 557.50 L508.50 562.50" fill="none" stroke="#1e1e1e" stroke-width="0.88" />
<path d="M510.50 557.50 L510.50 562.50" fill="none" stroke="#1e1e1e" stroke-width="0.88" />
<path d="M531.5 554.5 L538.5 554 L540 559.5 L538.5 565 L531.5 564.5 Z" fill="#fff" stroke="#1e1e1e" stroke-width="1.38" />
<path d="M531.50 557.50 L539.50 557.50" fill="none" stroke="#1e1e1e" stroke-width="1.00" />
<path d="M531.50 562.00 L539.50 562.00" fill="none" stroke="#1e1e1e" stroke-width="1.00" />
<path d="M528.50 560.30 L528.50 607.20" fill="none" stroke="#1e1e1e" stroke-width="1.12" />
<path d="M586.56 520.31 L593.44 517.38 L594.06 524.06 L604.06 532.81 L604.25 540.00 L598.44 543.75 L597.81 537.50 L586.56 527.50 Z" fill="#fff" stroke="#1e1e1e" stroke-width="1.19" />
<path d="M586.56 520.31 L588.75 521.56 L593.44 518.75" fill="none" stroke="#1e1e1e" stroke-width="0.88" />
<path d="M588.75 521.56 L589.06 526.25 L598.44 535.31 L604.06 532.81" fill="none" stroke="#1e1e1e" stroke-width="1.00" />
<path d="M598.44 535.31 L598.44 543.75" fill="none" stroke="#1e1e1e" stroke-width="1.00" />
<path d="M589.06 526.25 L594.06 524.06" fill="none" stroke="#1e1e1e" stroke-width="0.88" />
<circle cx="590.30" cy="522.20" r="0.80" fill="none" stroke="#1e1e1e" stroke-width="0.88"/>
<circle cx="600.60" cy="539.40" r="0.90" fill="none" stroke="#1e1e1e" stroke-width="0.88"/>
<path d="M597.50 531.25 L597.50 608.00" fill="none" stroke="#1e1e1e" stroke-width="1.12" />
<path d="M638.5 461.5 L655.5 461 L655.2 491 L642.5 487 Q642.5 475 640.5 468 Z" fill="#fff" stroke="#111" stroke-width="2.00" />
<circle cx="640.00" cy="462.70" r="2.20" fill="#111" stroke="#111" stroke-width="1.00"/>
<circle cx="649.00" cy="464.00" r="2.00" fill="#111" stroke="#111" stroke-width="1.00"/>
<path d="M656.00 483.50 L668.00 479.00 L677.00 479.00 L689.00 483.00 L678.00 489.50 L664.50 496.00 L656.00 490.50 Z" fill="#fff" stroke="#111" stroke-width="2.00" />
<circle cx="663.50" cy="487.00" r="2.00" fill="#111" stroke="#111" stroke-width="1.00"/>
<circle cx="679.00" cy="486.00" r="2.00" fill="#111" stroke="#111" stroke-width="1.00"/>
<path d="M669.00 483.50 L672.50 483.50" fill="none" stroke="#111" stroke-width="1.60" />
<path d="M670.70 483.50 L670.70 488.00" fill="none" stroke="#111" stroke-width="1.60" />
<path d="M664.50 496.00 L664.50 505.00 L661.00 507.50 L661.00 526.50 L670.50 524.50 L670.50 493.80" fill="none" stroke="#111" stroke-width="2.00" />
<circle cx="667.00" cy="510.50" r="1.30" fill="#111" stroke="#111" stroke-width="1.00"/>
<circle cx="666.50" cy="521.50" r="1.50" fill="#111" stroke="#111" stroke-width="1.00"/>
<path d="M649.00 493.50 L664.00 496.00" fill="none" stroke="#111" stroke-width="1.20" />
<path d="M650.50 488.00 L650.50 514.00" fill="none" stroke="#111" stroke-width="1.30" />
<path d="M650.50 505.00 L656.50 504.50 L656.50 512.50 L650.50 514.00" fill="none" stroke="#111" stroke-width="1.70" />
<circle cx="653.50" cy="508.00" r="0.90" fill="#111" stroke="#111" stroke-width="1.00"/>
<path d="M670.80 468.00 L670.80 477.50" fill="none" stroke="#1e1e1e" stroke-width="1.20" />
<path d="M639.00 504.50 L645.00 505.50" fill="none" stroke="#1e1e1e" stroke-width="1.25" />
<path d="M657.00 520.00 L660.00 520.50" fill="none" stroke="#1e1e1e" stroke-width="1.25" />
<path d="M675.00 512.50 L694.00 517.50" fill="none" stroke="#1e1e1e" stroke-width="1.25" />
<path d="M672.00 523.50 L684.00 526.50" fill="none" stroke="#1e1e1e" stroke-width="1.25" />
<path d="M689.50 492.50 L694.00 493.50" fill="none" stroke="#1e1e1e" stroke-width="1.25" />
<path d="M648.50 483.00 L648.50 608.30" fill="none" stroke="#1e1e1e" stroke-width="1.12" />
<path d="M685.00 481.20 L752.50 481.20 L752.50 538.00" fill="none" stroke="#222" stroke-width="1.40" stroke-dasharray="2.6 1.2" stroke-linecap="butt" />
<path d="M690.00 485.00 L746.90 485.00 L746.90 533.50" fill="none" stroke="#222" stroke-width="1.40" stroke-dasharray="2.6 1.2" stroke-linecap="butt" />
<path d="M686.00 488.80 L737.50 488.80 L737.50 538.00" fill="none" stroke="#222" stroke-width="1.40" stroke-dasharray="2.6 1.2" stroke-linecap="butt" />
<path d="M675.50 495.00 L675.50 503.50 L707.50 503.50 L707.50 533.00" fill="none" stroke="#222" stroke-width="1.20" stroke-dasharray="4 1.3 1.3 1.3" stroke-linecap="butt" />
<path d="M698.5 542 V558 Q698.5 563 707 563 Q716 563 716 558 V542" fill="#fff" stroke="#1e1e1e" stroke-width="1.25" />
<ellipse cx="707.20" cy="542.00" rx="8.80" ry="3.60" fill="#fff" stroke="#1e1e1e" stroke-width="1.25" transform="rotate(0.0 707.20 542.00)"/>
<path d="M707.00 533.00 L707.00 541.00" fill="none" stroke="#111" stroke-width="2.60" />
<path d="M707.00 555.00 L707.00 564.00" fill="none" stroke="#222" stroke-width="1.60" />
<rect x="705.2" y="565" width="4" height="8.5" fill="#fff" stroke="#222" stroke-width="0.9"/>
<path d="M707.20 574.00 L707.20 582.00" fill="none" stroke="#1e1e1e" stroke-width="1.20" stroke-dasharray="2 1.5" stroke-linecap="butt" />
<path d="M708.80 572.00 L708.80 608.70" fill="none" stroke="#1e1e1e" stroke-width="1.12" />
<ellipse cx="745.00" cy="538.50" rx="9.00" ry="3.80" fill="#fff" stroke="#8a8a8a" stroke-width="1.25" transform="rotate(0.0 745.00 538.50)"/>
<ellipse cx="745.00" cy="538.50" rx="5.00" ry="2.00" fill="none" stroke="#8a8a8a" stroke-width="1.00" transform="rotate(0.0 745.00 538.50)"/>
<path d="M736 538.5 V544 Q736 549.5 745 550 Q754 549.5 754 544 V538.5" fill="none" stroke="#8a8a8a" stroke-width="1.25" />
<path d="M734.5 541 Q745 547 755.5 541" fill="none" stroke="#8a8a8a" stroke-width="1.00" />
<path d="M743.60 544.50 L743.60 609.20" fill="none" stroke="#1e1e1e" stroke-width="1.12" />
<ellipse cx="85.40" cy="176.80" rx="12.9" ry="11.6" fill="#fff" stroke="#2a2a2a" stroke-width="1.05"/>
<text transform="translate(84.00 179.60) scale(0.9 1)" class="n">29</text>
<ellipse cx="161.90" cy="171.70" rx="12.9" ry="11.6" fill="#fff" stroke="#2a2a2a" stroke-width="1.05"/>
<text transform="translate(160.50 174.50) scale(0.9 1)" class="n">2</text>
<ellipse cx="295.00" cy="170.75" rx="12.9" ry="11.6" fill="#fff" stroke="#2a2a2a" stroke-width="1.05"/>
<text transform="translate(293.60 173.55) scale(0.9 1)" class="n">3</text>
<ellipse cx="298.70" cy="232.20" rx="12.9" ry="11.6" fill="#fff" stroke="#2a2a2a" stroke-width="1.05"/>
<text transform="translate(297.30 235.00) scale(0.9 1)" class="n">4</text>
<ellipse cx="389.80" cy="170.75" rx="12.9" ry="11.6" fill="#fff" stroke="#2a2a2a" stroke-width="1.05"/>
<text transform="translate(388.40 173.55) scale(0.9 1)" class="n">5</text>
<ellipse cx="440.10" cy="166.50" rx="12.9" ry="11.6" fill="#fff" stroke="#2a2a2a" stroke-width="1.05"/>
<text transform="translate(438.70 169.30) scale(0.9 1)" class="n">6</text>
<ellipse cx="512.30" cy="168.00" rx="12.9" ry="11.6" fill="#fff" stroke="#2a2a2a" stroke-width="1.05"/>
<text transform="translate(510.90 170.80) scale(0.9 1)" class="n">7</text>
<ellipse cx="691.20" cy="171.10" rx="12.9" ry="11.6" fill="#fff" stroke="#2a2a2a" stroke-width="1.05"/>
<text transform="translate(689.80 173.90) scale(0.9 1)" class="n">9</text>
<ellipse cx="759.50" cy="171.10" rx="12.9" ry="11.6" fill="#fff" stroke="#2a2a2a" stroke-width="1.05"/>
<text transform="translate(758.10 173.90) scale(0.9 1)" class="n">10</text>
<ellipse cx="757.30" cy="198.25" rx="12.9" ry="11.6" fill="#fff" stroke="#2a2a2a" stroke-width="1.05"/>
<text transform="translate(755.90 201.05) scale(0.9 1)" class="n">11</text>
<ellipse cx="721.20" cy="275.60" rx="12.9" ry="11.6" fill="#fff" stroke="#2a2a2a" stroke-width="1.05"/>
<text transform="translate(719.80 278.40) scale(0.9 1)" class="n">12</text>
<ellipse cx="721.30" cy="306.80" rx="12.9" ry="11.6" fill="#fff" stroke="#2a2a2a" stroke-width="1.05"/>
<text transform="translate(719.90 309.60) scale(0.9 1)" class="n">23</text>
<ellipse cx="687.70" cy="351.40" rx="12.9" ry="11.6" fill="#fff" stroke="#2a2a2a" stroke-width="1.05"/>
<text transform="translate(686.30 354.20) scale(0.9 1)" class="n">30</text>
<ellipse cx="620.65" cy="405.80" rx="12.9" ry="11.6" fill="#fff" stroke="#2a2a2a" stroke-width="1.05"/>
<text transform="translate(619.25 408.60) scale(0.9 1)" class="n">23</text>
<ellipse cx="136.90" cy="308.60" rx="12.9" ry="11.6" fill="#fff" stroke="#2a2a2a" stroke-width="1.05"/>
<text transform="translate(135.50 311.40) scale(0.9 1)" class="n">1</text>
<ellipse cx="90.60" cy="343.70" rx="12.9" ry="11.6" fill="#fff" stroke="#2a2a2a" stroke-width="1.05"/>
<text transform="translate(89.20 346.50) scale(0.9 1)" class="n">22</text>
<ellipse cx="41.40" cy="396.20" rx="12.9" ry="11.6" fill="#fff" stroke="#2a2a2a" stroke-width="1.05"/>
<text transform="translate(40.00 399.00) scale(0.9 1)" class="n">24</text>
<ellipse cx="35.00" cy="584.70" rx="12.9" ry="11.6" fill="#fff" stroke="#2a2a2a" stroke-width="1.05"/>
<text transform="translate(33.60 587.50) scale(0.9 1)" class="n">21</text>
<ellipse cx="49.50" cy="612.20" rx="12.9" ry="11.6" fill="#fff" stroke="#2a2a2a" stroke-width="1.05"/>
<text transform="translate(48.10 615.00) scale(0.9 1)" class="n">14</text>
<ellipse cx="81.40" cy="633.90" rx="12.9" ry="11.6" fill="#fff" stroke="#2a2a2a" stroke-width="1.05"/>
<text transform="translate(80.00 636.70) scale(0.9 1)" class="n">26</text>
<ellipse cx="237.30" cy="595.30" rx="12.9" ry="11.6" fill="#fff" stroke="#2a2a2a" stroke-width="1.05"/>
<text transform="translate(235.90 598.10) scale(0.9 1)" class="n">27</text>
<ellipse cx="238.00" cy="619.40" rx="12.9" ry="11.6" fill="#fff" stroke="#2a2a2a" stroke-width="1.05"/>
<text transform="translate(236.60 622.20) scale(0.9 1)" class="n">28</text>
<ellipse cx="342.20" cy="620.80" rx="12.9" ry="11.6" fill="#fff" stroke="#2a2a2a" stroke-width="1.05"/>
<text transform="translate(340.80 623.60) scale(0.9 1)" class="n">25</text>
<ellipse cx="381.40" cy="619.40" rx="12.9" ry="11.6" fill="#fff" stroke="#2a2a2a" stroke-width="1.05"/>
<text transform="translate(380.00 622.20) scale(0.9 1)" class="n">20</text>
<ellipse cx="432.20" cy="620.30" rx="12.9" ry="11.6" fill="#fff" stroke="#2a2a2a" stroke-width="1.05"/>
<text transform="translate(430.80 623.10) scale(0.9 1)" class="n">19</text>
<ellipse cx="484.40" cy="620.30" rx="12.9" ry="11.6" fill="#fff" stroke="#2a2a2a" stroke-width="1.05"/>
<text transform="translate(483.00 623.10) scale(0.9 1)" class="n">18</text>
<ellipse cx="529.30" cy="618.70" rx="12.9" ry="11.6" fill="#fff" stroke="#2a2a2a" stroke-width="1.05"/>
<text transform="translate(527.90 621.50) scale(0.9 1)" class="n">17</text>
<ellipse cx="598.40" cy="619.65" rx="12.9" ry="11.6" fill="#fff" stroke="#2a2a2a" stroke-width="1.05"/>
<text transform="translate(597.00 622.45) scale(0.9 1)" class="n">16</text>
<ellipse cx="649.45" cy="619.90" rx="12.9" ry="11.6" fill="#fff" stroke="#2a2a2a" stroke-width="1.05"/>
<text transform="translate(648.05 622.70) scale(0.9 1)" class="n">15</text>
<ellipse cx="709.60" cy="620.20" rx="12.9" ry="11.6" fill="#fff" stroke="#2a2a2a" stroke-width="1.05"/>
<text transform="translate(708.20 623.00) scale(0.9 1)" class="n">31</text>
<ellipse cx="745.00" cy="620.75" rx="12.9" ry="11.6" fill="#fff" stroke="#2a2a2a" stroke-width="1.05"/>
<text transform="translate(743.60 623.55) scale(0.9 1)" class="n">14</text>
<text transform="translate(661.4 374.5) scale(0.9 1)" class="n" style="font-size:10.3px">13</text>
<text x="254.2" y="598.6" class="b">D</text>
<text x="254.4" y="619.9" class="b">G</text>
<path d="M145.60 317.50 L176.00 349.00" fill="none" stroke="#1e1e1e" stroke-width="1.12" />
<path d="M358.6 0 L438.8 0 L0 438.8 L0 358.6 Z" fill="rgba(17,177,217,0.40)" stroke="none"/>
<text transform="translate(203.75,203.75) rotate(-45) scale(1.12,1)" text-anchor="middle" style="font:bold 38px 'Liberation Sans',sans-serif;fill:#fff;stroke:#fff;stroke-width:0.6px;stroke-linejoin:miter" x="-147.32 -125.89 -109.37 -88.21 -69.46 -49.91 -33.93 -14.46 4.46 27.59 49.73 72.50 93.75 109.11 129.82 150.45 175.00">pro-piece-vsp.com</text>
<path d="M651.2 618 L652.6 612 L657.5 596.4 Q675 592.4 700 592.9 Q715 593.4 725.75 595.4 L731 613.75 L734.5 624.25" fill="none" stroke="#e0508c" stroke-width="2.20" />
<path d="M656.6 620.5 L660.65 603 Q675 600 695 600.3 L717 601.15 L722.25 602.4" fill="none" stroke="#41465f" stroke-width="1.70" />
<path d="M725.6 613.5 L726.6 620.75" fill="none" stroke="#41465f" stroke-width="1.70" />
<path d="M657.5 621.5 L726.6 620.75" fill="none" stroke="#41465f" stroke-width="1.50" />
<path d="M642.5 615.5 Q634 612 631 617 Q629.5 622.5 636 624.5 Q640 625 642 623 M641 615.5 Q643 620 645 627" fill="none" stroke="#41465f" stroke-width="1.60" />
<path d="M740.5 626 Q750 627.5 754.5 622.5 Q756 617 748.5 616 Q743 615.8 740 618 M740.5 620 Q740.8 627 742 632" fill="none" stroke="#41465f" stroke-width="1.60" />
<path d="M642.6 631.25 Q639 648 640.9 664.5" fill="none" stroke="#41465f" stroke-width="1.50" />
<path d="M741.5 631.25 Q746 648 743.25 664.5" fill="none" stroke="#41465f" stroke-width="1.50" />
<path d="M650.5 629.5 Q660 634 668 639.1" fill="none" stroke="#41465f" stroke-width="1.40" />
<path d="M735.4 628.6 Q726 633 715.25 640" fill="none" stroke="#41465f" stroke-width="1.40" />
<path d="M644.4 632.1 Q644 638 647 640 Q655 646 662.75 647.9 Q666 647 666.25 644.4 Q660 638.5 644.4 632.1 Z" fill="none" stroke="#41465f" stroke-width="1.40" />
<path d="M739.75 633 Q740 639 737.1 641.75 Q729 647 720.5 648.75 Q717.2 648 717 645.25 Q724 639.5 739.75 633 Z" fill="none" stroke="#41465f" stroke-width="1.40" />
<path d="M641.75 649.6 Q652 653 662.75 654 Q692 656.3 720.5 654 Q733 652 743.25 647.9" fill="none" stroke="#41465f" stroke-width="1.70" />
<path d="M643.5 657.5 Q650 657.6 655.75 658.4 Q661 660.5 666.25 664.5" fill="none" stroke="#41465f" stroke-width="1.40" />
<path d="M743.25 656.6 Q737 657 731 658.4 Q725 660.8 719.6 664.5" fill="none" stroke="#41465f" stroke-width="1.40" />
<path d="M668.9 661.9 L717 661" fill="none" stroke="#41465f" stroke-width="1.12" />
<text x="692.5" y="682.2" style="font:italic bold 8px 'Liberation Sans',sans-serif;fill:#e0508c" textLength="33" lengthAdjust="spacingAndGlyphs">GROUP</text>
<path d="M682.90 679.40 L691.00 679.40" fill="none" stroke="#e0508c" stroke-width="1.25" />
<path d="M727.00 679.40 L735.40 679.40" fill="none" stroke="#e0508c" stroke-width="1.25" />
<path d="M756.85 690.33 L751.18 695.09 L744.23 692.56 L742.95 685.27 L748.62 680.51 L755.57 683.04 Z" fill="none" stroke="#e0508c" stroke-width="5.00" />
<text x="624.5" y="722" style="font:italic bold 66px 'Liberation Sans',sans-serif;fill:#41465f;stroke:#41465f;stroke-width:1.6px" textLength="122" lengthAdjust="spacingAndGlyphs">Pro</text>
<text x="620.5" y="767.5" style="font:italic bold 57.5px 'Liberation Sans',sans-serif;fill:#67c8ea;stroke:#67c8ea;stroke-width:2px" textLength="139" lengthAdjust="spacingAndGlyphs">VSP</text>
<path d="M199.06 330.94 L199.06 335.63 L204.69 340.31 L206.56 337.50 L203.75 334.69 L203.75 330.94" fill="none" stroke="#1e1e1e" stroke-width="1.12" />
<path d="M207.50 332.81 L207.50 336.56 L214.06 344.06 L216.88 340.31 L212.19 336.56 L211.25 332.81" fill="none" stroke="#1e1e1e" stroke-width="1.12" />
<circle cx="205.00" cy="338.50" r="0.60" fill="none" stroke="#1e1e1e" stroke-width="0.75"/>
<circle cx="214.50" cy="341.50" r="0.60" fill="none" stroke="#1e1e1e" stroke-width="0.75"/>
<path d="M225.50 324.00 L340.00 434.30" fill="none" stroke="#1e1e1e" stroke-width="1.00" />
<path d="M279.69 404.06 L297.50 414.38 L298.44 418.13 L291.88 422.81 L287.19 420.94 L279.69 409.69" fill="none" stroke="#1e1e1e" stroke-width="1.12" />
<path d="M279.69 409.69 L290.00 417.19 L291.88 422.81" fill="none" stroke="#1e1e1e" stroke-width="1.00" />
<circle cx="292.80" cy="415.30" r="0.90" fill="none" stroke="#1e1e1e" stroke-width="0.88"/>
<path d="M245.94 433.13 L254.38 432.19 L258.13 438.75 L250.63 439.69 Z" fill="none" stroke="#1e1e1e" stroke-width="1.12" />
<path d="M255.31 440.63 L263.75 439.69 L267.50 445.31 L260.00 446.25 Z" fill="none" stroke="#1e1e1e" stroke-width="1.12" />
<path d="M408.75 457.81 L408.75 477.50 L422.81 471.88 L422.81 451.25" fill="none" stroke="#1e1e1e" stroke-width="1.12" />
<path d="M415.69 455.00 L415.69 474.69" fill="none" stroke="#1e1e1e" stroke-width="0.88" />
<path d="M322.50 409.06 L325.31 408.13 L331.88 414.69 L331.88 418.44 L328.13 419.38 L322.50 412.81 Z" fill="none" stroke="#1e1e1e" stroke-width="1.12" />
<path d="M323.44 425.94 L326.25 424.63 L330.94 429.69 L330.94 434.38 L327.19 435.31 L323.44 430.63 Z" fill="none" stroke="#1e1e1e" stroke-width="1.12" />
<path d="M313.13 428.38 L315.00 426.88 L318.75 434.38 L318.75 437.19 L315.94 438.13 L313.13 433.44 Z" fill="none" stroke="#1e1e1e" stroke-width="1.12" />
<path d="M426.25 260.31 L432.81 249.06 L438.44 245.88 L449.69 248.13 L445.94 253.75 L442.19 248.13" fill="none" stroke="#1e1e1e" stroke-width="1.12" />
<circle cx="445.56" cy="249.44" r="1.10" fill="none" stroke="#1e1e1e" stroke-width="0.88"/>
<path d="M428.13 260.31 L434.69 250.00" fill="none" stroke="#1e1e1e" stroke-width="0.88" />
<path d="M418.75 332.50 L437.50 325.94 L442.19 334.38 L436.00 336.25 L434.88 340.00 L426.25 342.81 L418.75 336.63 Z" fill="#fff" stroke="#1e1e1e" stroke-width="1.12" />
<path d="M426.25 342.81 L428.13 344.69 L436.56 341.88 L434.88 340.00" fill="none" stroke="#1e1e1e" stroke-width="1.00" />
<path d="M436.00 336.25 L438.44 337.75 L444.06 335.88 L442.19 334.38" fill="none" stroke="#1e1e1e" stroke-width="1.00" />
<path d="M395.31 349.38 L404.69 344.69 L412.19 351.25 L402.81 356.50 Z" fill="#fff" stroke="#1e1e1e" stroke-width="1.12" />
<ellipse cx="403.75" cy="350.69" rx="3.00" ry="2.40" fill="#fff" stroke="#1e1e1e" stroke-width="1.12" transform="rotate(-20.0 403.75 350.69)"/>
<circle cx="398.12" cy="349.75" r="0.50" fill="none" stroke="#1e1e1e" stroke-width="0.62"/>
<circle cx="404.69" cy="346.75" r="0.50" fill="none" stroke="#1e1e1e" stroke-width="0.62"/>
<circle cx="409.38" cy="351.25" r="0.50" fill="none" stroke="#1e1e1e" stroke-width="0.62"/>
<circle cx="402.81" cy="354.44" r="0.50" fill="none" stroke="#1e1e1e" stroke-width="0.62"/>
<path d="M469.38 273.44 L472.19 272.13 L475.00 275.31 L472.75 277.19 L469.75 275.88 Z" fill="none" stroke="#1e1e1e" stroke-width="1.00" />
<path d="M513.44 234.06 L516.25 233.13 L519.06 237.81 L516.25 238.75 Z" fill="none" stroke="#1e1e1e" stroke-width="1.00" />
<path d="M520.00 239.69 L522.81 238.75 L524.69 242.50 L521.88 243.44 Z" fill="none" stroke="#1e1e1e" stroke-width="1.00" />
<path d="M505.00 307.00 L599.00 243.00" fill="none" stroke="#1e1e1e" stroke-width="1.00" stroke-dasharray="4 1.3 1.3 1.3" stroke-linecap="butt" />
<path d="M524.00 326.00 L631.50 270.00" fill="none" stroke="#1e1e1e" stroke-width="1.00" stroke-dasharray="4 1.3 1.3 1.3" stroke-linecap="butt" />
<path d="M566.50 387.00 L570.30 372.00 L577.00 373.75 L588.00 379.40 L584.40 383.50 L570.30 390.60 Z" fill="#fff" stroke="#1e1e1e" stroke-width="1.25" />
<path d="M570.30 372.00 L572.50 376.00 L569.50 388.00" fill="none" stroke="#1e1e1e" stroke-width="1.00" />
<circle cx="584.00" cy="380.70" r="1.10" fill="none" stroke="#1e1e1e" stroke-width="1.00"/>
<path d="M622.50 320.00 L623.50 326.00 L619.50 328.50" fill="none" stroke="#1e1e1e" stroke-width="1.12" />
<path d="M616.00 325.00 L621.50 331.50 L618.50 333.00 L614.50 327.50" fill="none" stroke="#1e1e1e" stroke-width="1.00" />
<path d="M272 506.5 L272.5 511 Q275 513.5 277 511 L277 505" fill="none" stroke="#1e1e1e" stroke-width="1.12" />
<path d="M292 500.5 L292.5 505 Q295 507.5 297 505 L297 499" fill="none" stroke="#1e1e1e" stroke-width="1.12" />
<circle cx="274.80" cy="510.60" r="0.70" fill="none" stroke="#1e1e1e" stroke-width="0.75"/>
<circle cx="294.80" cy="504.60" r="0.70" fill="none" stroke="#1e1e1e" stroke-width="0.75"/>
<path d="M371.00 364.50 L371.00 374.00" fill="none" stroke="#1e1e1e" stroke-width="1.00" />
<path d="M377.00 362.00 L377.00 376.00" fill="none" stroke="#1e1e1e" stroke-width="1.00" />
</svg>
</body></html>
